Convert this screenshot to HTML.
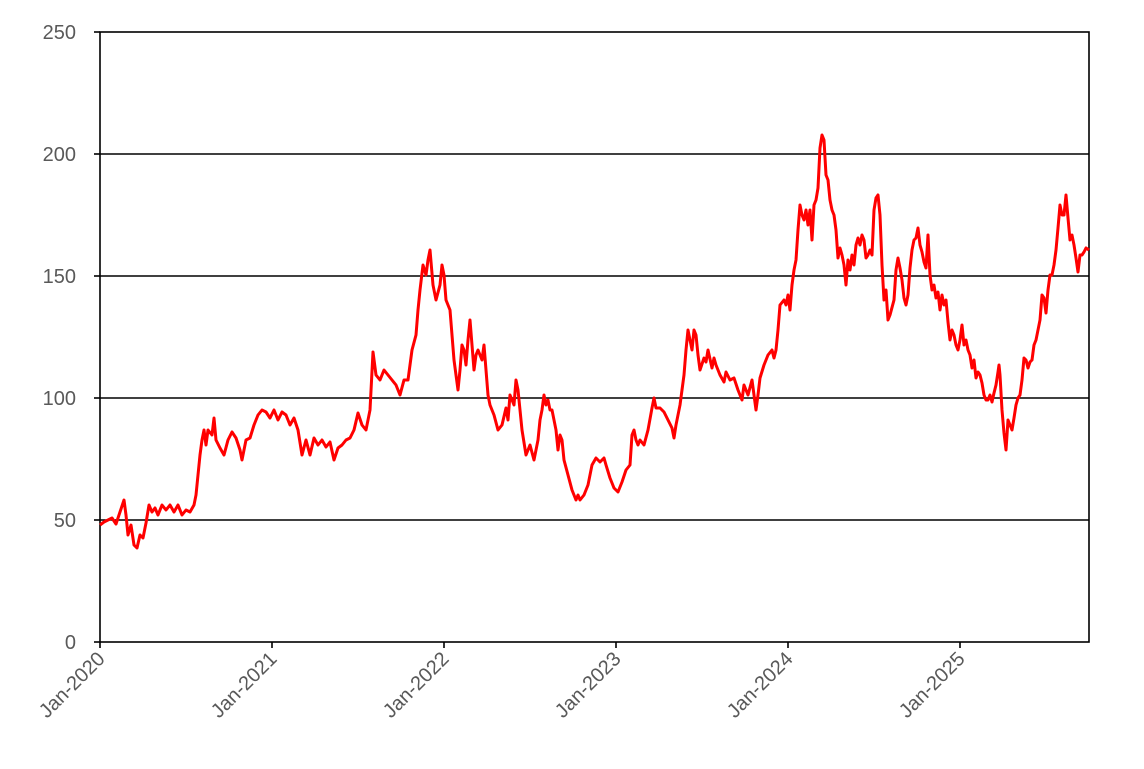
<!DOCTYPE html>
<html><head><meta charset="utf-8"><style>
html,body{margin:0;padding:0;background:#fff;}
svg{display:block;font-family:"Liberation Sans",sans-serif;}
</style></head><body>
<svg width="1144" height="769" viewBox="0 0 1144 769">
<g stroke="#000" stroke-width="1.6">
<line x1="100" y1="154" x2="1089" y2="154"/>
<line x1="100" y1="276" x2="1089" y2="276"/>
<line x1="100" y1="398" x2="1089" y2="398"/>
<line x1="100" y1="520" x2="1089" y2="520"/>
<rect x="100" y="32" width="989" height="610" fill="none"/>
<line x1="94" y1="32" x2="100" y2="32"/><line x1="94" y1="154" x2="100" y2="154"/><line x1="94" y1="276" x2="100" y2="276"/><line x1="94" y1="398" x2="100" y2="398"/><line x1="94" y1="520" x2="100" y2="520"/><line x1="94" y1="642" x2="100" y2="642"/>
<line x1="100" y1="642" x2="100" y2="648"/><line x1="272" y1="642" x2="272" y2="648"/><line x1="444" y1="642" x2="444" y2="648"/><line x1="616" y1="642" x2="616" y2="648"/><line x1="788" y1="642" x2="788" y2="648"/><line x1="960" y1="642" x2="960" y2="648"/>
</g>
<g fill="#595959" font-size="20" text-anchor="end">
<text x="76" y="39">250</text><text x="76" y="161">200</text><text x="76" y="283">150</text><text x="76" y="405">100</text><text x="76" y="527">50</text><text x="76" y="649">0</text>
</g>
<g fill="#595959" font-size="20" text-anchor="end">
<text transform="translate(106,660) rotate(-45)">Jan-2020</text>
<text transform="translate(278,660) rotate(-45)">Jan-2021</text>
<text transform="translate(450,660) rotate(-45)">Jan-2022</text>
<text transform="translate(622,660) rotate(-45)">Jan-2023</text>
<text transform="translate(794,660) rotate(-45)">Jan-2024</text>
<text transform="translate(966,660) rotate(-45)">Jan-2025</text>
</g>
<polyline fill="none" stroke="#ff0000" stroke-width="3" stroke-linejoin="round" points="100,525 104,522 108,520 112,518 116,524 120,512 124,500 126,515 128,535 131,525 134,545 137,548 140,535 143,538 146,523 149,505 152,512 155,508 158,515 162,505 166,510 170,505 174,512 178,505 182,515 186,510 190,512 194,505 196,495 198,475 200,455 202,440 204,430 206,445 208,430 212,435 214,418 216,440 220,448 224,455 228,440 232,432 236,438 240,450 242,460 246,440 250,438 254,425 258,415 262,410 266,412 270,418 274,410 278,420 282,412 286,415 290,425 294,418 298,430 302,455 306,440 310,455 314,438 318,445 322,440 326,447 330,442 334,460 338,448 342,445 346,440 350,438 354,430 358,413 362,425 366,430 370,410 373,352 376,375 380,380 384,370 388,375 392,380 396,385 400,395 404,380 408,380 412,350 416,335 418,310 420,290 423,265 426,275 428,260 430,250 433,285 436,300 440,285 442,265 444,275 446,300 450,310 454,360 458,390 460,370 462,345 464,350 466,365 468,340 470,320 474,370 476,355 478,350 480,355 482,360 484,345 486,370 488,395 490,405 494,415 498,430 502,425 506,408 508,420 510,395 514,405 516,380 518,390 520,410 522,430 526,455 530,445 534,460 538,440 540,420 542,410 544,395 546,405 548,400 550,410 552,410 556,430 558,450 560,435 562,440 564,460 568,475 572,490 576,500 578,495 580,500 584,495 588,485 592,465 596,458 600,462 604,458 606,465 610,478 614,488 618,492 622,482 626,470 630,465 632,435 634,430 636,440 638,445 640,440 644,445 648,430 652,408 654,398 656,408 660,408 664,412 668,420 672,428 674,438 676,425 680,405 682,390 684,375 686,350 688,330 690,340 692,350 694,330 696,335 698,355 700,370 704,358 706,362 708,350 712,368 714,358 716,365 720,375 724,382 726,372 730,380 734,378 738,390 742,400 744,385 748,395 752,380 756,410 758,395 760,378 764,365 768,355 772,350 774,358 776,350 778,330 780,305 784,300 786,305 788,295 790,310 792,285 794,270 796,260 798,230 800,205 802,215 804,220 806,210 808,225 810,210 812,240 814,205 816,200 818,188 820,148 822,135 824,140 826,175 828,180 830,200 832,210 834,215 836,230 838,258 840,248 842,255 844,265 846,285 848,260 850,270 852,255 854,265 856,245 858,238 860,245 862,235 864,240 866,258 868,255 870,250 872,255 874,210 876,198 878,195 880,215 882,265 884,300 886,290 888,320 890,315 894,300 896,270 898,258 900,268 902,280 904,298 906,305 908,295 910,268 912,250 914,240 916,238 918,228 920,245 922,252 924,262 926,268 928,235 930,275 932,290 934,285 936,298 938,292 940,310 942,295 944,305 946,300 948,322 950,340 952,330 954,335 956,345 958,350 960,340 962,325 964,345 966,340 968,350 970,355 972,368 974,360 976,378 978,372 980,375 982,383 984,395 986,400 988,400 990,395 992,402 994,393 996,385 998,372 999,365 1000,375 1002,410 1004,433 1006,450 1008,420 1010,425 1012,430 1014,418 1016,405 1018,398 1020,395 1022,380 1024,358 1026,360 1028,368 1030,362 1032,360 1034,345 1036,340 1038,330 1040,320 1042,295 1044,298 1046,313 1048,290 1050,275 1052,275 1054,265 1056,250 1058,228 1060,205 1062,215 1064,215 1066,195 1068,218 1070,240 1072,235 1074,245 1076,258 1078,272 1080,255 1082,255 1084,252 1086,248 1089,250"/>
</svg>
</body></html>
